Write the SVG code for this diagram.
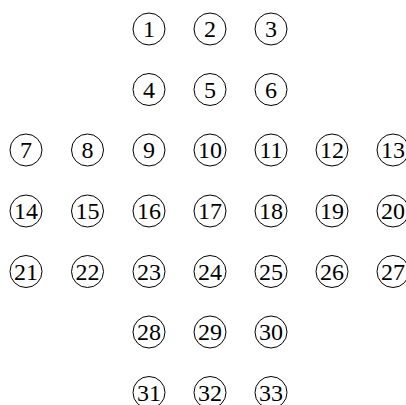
<svg xmlns="http://www.w3.org/2000/svg" width="406" height="405" viewBox="0 0 406 405">
<style>
circle{fill:none;stroke:#000;stroke-width:1}
text{font-family:"Liberation Serif","Times New Roman",serif;font-size:24px;text-anchor:middle;fill:#000}
</style>
<rect width="406" height="405" fill="#fff"/>
<defs><circle id="c" r="16"/></defs>
<g id="connectors"/>
<g id="n1" transform="translate(149,29)"><use href="#c"/><text y="8">1</text></g>
<g id="n2" transform="translate(210,29)"><use href="#c"/><text y="8">2</text></g>
<g id="n3" transform="translate(271,29)"><use href="#c"/><text y="8">3</text></g>
<g id="n4" transform="translate(149,89.5)"><use href="#c"/><text y="8">4</text></g>
<g id="n5" transform="translate(210,89.5)"><use href="#c"/><text y="8">5</text></g>
<g id="n6" transform="translate(271,89.5)"><use href="#c"/><text y="8">6</text></g>
<g id="n7" transform="translate(26,150)"><use href="#c"/><text y="8">7</text></g>
<g id="n8" transform="translate(87.5,150)"><use href="#c"/><text y="8">8</text></g>
<g id="n9" transform="translate(149,150)"><use href="#c"/><text y="8">9</text></g>
<g id="n10" transform="translate(210,150)"><use href="#c"/><text y="8">10</text></g>
<g id="n11" transform="translate(271,150)"><use href="#c"/><text y="8">11</text></g>
<g id="n12" transform="translate(332,150)"><use href="#c"/><text y="8">12</text></g>
<g id="n13" transform="translate(393,150)"><use href="#c"/><text y="8">13</text></g>
<g id="n14" transform="translate(26,211)"><use href="#c"/><text y="8">14</text></g>
<g id="n15" transform="translate(87.5,211)"><use href="#c"/><text y="8">15</text></g>
<g id="n16" transform="translate(149,211)"><use href="#c"/><text y="8">16</text></g>
<g id="n17" transform="translate(210,211)"><use href="#c"/><text y="8">17</text></g>
<g id="n18" transform="translate(271,211)"><use href="#c"/><text y="8">18</text></g>
<g id="n19" transform="translate(332,211)"><use href="#c"/><text y="8">19</text></g>
<g id="n20" transform="translate(393,211)"><use href="#c"/><text y="8">20</text></g>
<g id="n21" transform="translate(26,271.5)"><use href="#c"/><text y="8">21</text></g>
<g id="n22" transform="translate(87.5,271.5)"><use href="#c"/><text y="8">22</text></g>
<g id="n23" transform="translate(149,271.5)"><use href="#c"/><text y="8">23</text></g>
<g id="n24" transform="translate(210,271.5)"><use href="#c"/><text y="8">24</text></g>
<g id="n25" transform="translate(271,271.5)"><use href="#c"/><text y="8">25</text></g>
<g id="n26" transform="translate(332,271.5)"><use href="#c"/><text y="8">26</text></g>
<g id="n27" transform="translate(393,271.5)"><use href="#c"/><text y="8">27</text></g>
<g id="n28" transform="translate(149,332)"><use href="#c"/><text y="8">28</text></g>
<g id="n29" transform="translate(210,332)"><use href="#c"/><text y="8">29</text></g>
<g id="n30" transform="translate(271,332)"><use href="#c"/><text y="8">30</text></g>
<g id="n31" transform="translate(149,392.5)"><use href="#c"/><text y="8">31</text></g>
<g id="n32" transform="translate(210,392.5)"><use href="#c"/><text y="8">32</text></g>
<g id="n33" transform="translate(271,392.5)"><use href="#c"/><text y="8">33</text></g>
</svg>
